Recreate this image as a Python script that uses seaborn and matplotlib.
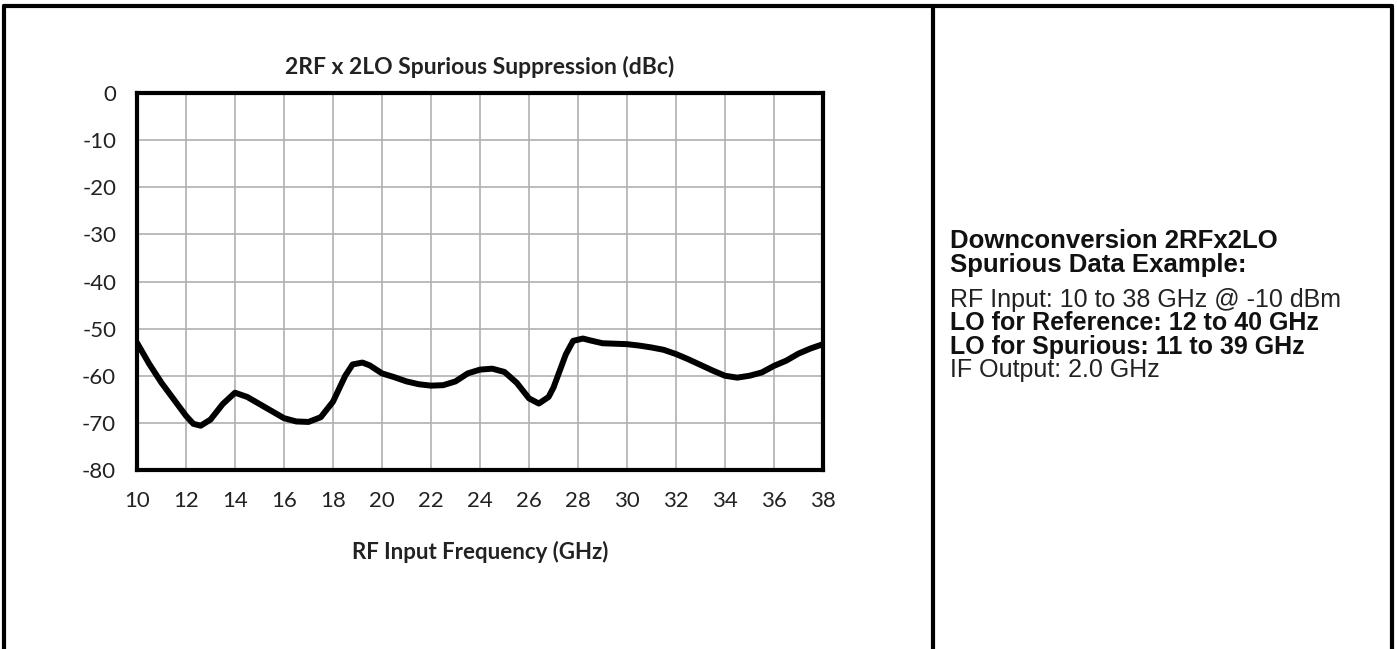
import numpy as np
import pandas as pd
import seaborn as sns
from matplotlib import pyplot as plt
from matplotlib.lines import Line2D

# RF input frequency (GHz) and 2RFx2LO spurious level (dBc)
freq_ghz = [10, 10.5, 11, 11.5, 12, 12.3, 12.6, 13, 13.5, 14, 14.5, 15, 15.5, 16, 16.5,
            17, 17.5, 18, 18.5, 18.8, 19.2, 19.5, 20, 20.5, 21, 21.5, 22, 22.5, 23, 23.5,
            24, 24.5, 25, 25.5, 26, 26.4, 26.8, 27, 27.5, 27.8, 28.2, 28.5, 29, 29.5, 30, 30.5,
            31, 31.5, 32, 32.5, 33, 33.5, 34, 34.5, 35, 35.5, 36, 36.5, 37, 37.5, 38]
spur_dbc = [-53, -57.5, -61.5, -65, -68.5, -70.2, -70.6, -69.3, -66, -63.6, -64.5, -66, -67.5,
            -69, -69.7, -69.8, -68.8, -65.5, -60, -57.6, -57.2, -57.8, -59.5, -60.3, -61.2, -61.8,
            -62.1, -62, -61.2, -59.5, -58.7, -58.5, -59.2, -61.5, -64.8, -65.9, -64.5, -62.5,
            -55.5, -52.6, -52.1, -52.5, -53.1, -53.2, -53.3, -53.6, -54, -54.5, -55.4, -56.5,
            -57.7, -58.9, -60, -60.4, -60, -59.3, -57.9, -56.8, -55.3, -54.2, -53.3]

x_ticks = list(range(10, 39, 2))
y_ticks = list(range(-80, 1, 10))

heading = ["Downconversion 2RFx2LO", "Spurious Data Example:"]
notes = [("RF Input: 10 to 38 GHz @ -10 dBm", "normal"),
         ("LO for Reference: 12 to 40 GHz", "bold"),
         ("LO for Spurious: 11 to 39 GHz", "bold"),
         ("IF Output: 2.0 GHz", "normal")]

df = pd.DataFrame({"freq": freq_ghz, "spur": spur_dbc})

sns.set_style("whitegrid")
plt.rcParams['font.family'] = ['Lato', 'DejaVu Sans']
plt.rcParams['axes.unicode_minus'] = False

W, H = 1397, 649
fig = plt.figure(figsize=(W / 100, H / 100), dpi=100)
fig.patch.set_facecolor("white")

# outer box and divider
lw_box = 3.0
fig.add_artist(Line2D([3.5 / W, 3.5 / W], [0, 1 - 5.5 / H], color="black", lw=lw_box))
fig.add_artist(Line2D([3.5 / W, 1391.5 / W], [1 - 5.5 / H, 1 - 5.5 / H], color="black", lw=lw_box))
fig.add_artist(Line2D([1391.5 / W, 1391.5 / W], [0, 1 - 5.5 / H], color="black", lw=lw_box))
fig.add_artist(Line2D([933 / W, 933 / W], [0, 1 - 5.5 / H], color="black", lw=lw_box))

ax = fig.add_axes([137 / W, 1 - 470 / H, (823 - 137) / W, (470 - 93) / H])
sns.lineplot(data=df, x="freq", y="spur", color="black", linewidth=4.3, ax=ax,
             solid_joinstyle="round", solid_capstyle="round")

ax.set_xlim(10, 38)
ax.set_ylim(-80, 0)
ax.set_xticks(x_ticks)
ax.set_yticks(y_ticks)
ax.tick_params(axis="both", length=0, labelsize=16, colors="#222222")
ax.tick_params(axis="x", pad=15)
ax.tick_params(axis="y", pad=15)
ax.grid(True, color="#b0b0b0", linewidth=1.2)
for s in ax.spines.values():
    s.set_color("black")
    s.set_linewidth(3)
ax.set_title("2RF x 2LO Spurious Suppression (dBc)", fontsize=16.5, fontweight="bold", pad=14,
             color="#222222")
ax.set_xlabel("RF Input Frequency (GHz)", fontsize=16, fontweight="bold", labelpad=22,
              color="#222222")
ax.set_ylabel("")

txt_font = ['Liberation Sans', 'DejaVu Sans']
y0 = 241
for i, line in enumerate(heading):
    fig.text(950 / W, 1 - (y0 + i * 24) / H, line, fontsize=18.5, fontweight="bold",
             family=txt_font, va="center", ha="left", color="#111111")
y1 = 300
for i, (line, wt) in enumerate(notes):
    fig.text(950 / W, 1 - (y1 + i * 23.5) / H, line, fontsize=18, fontweight=wt,
             family=txt_font, va="center", ha="left", color="#111111" if wt == "bold" else "#222222")

plt.savefig("out.png", dpi=100)
